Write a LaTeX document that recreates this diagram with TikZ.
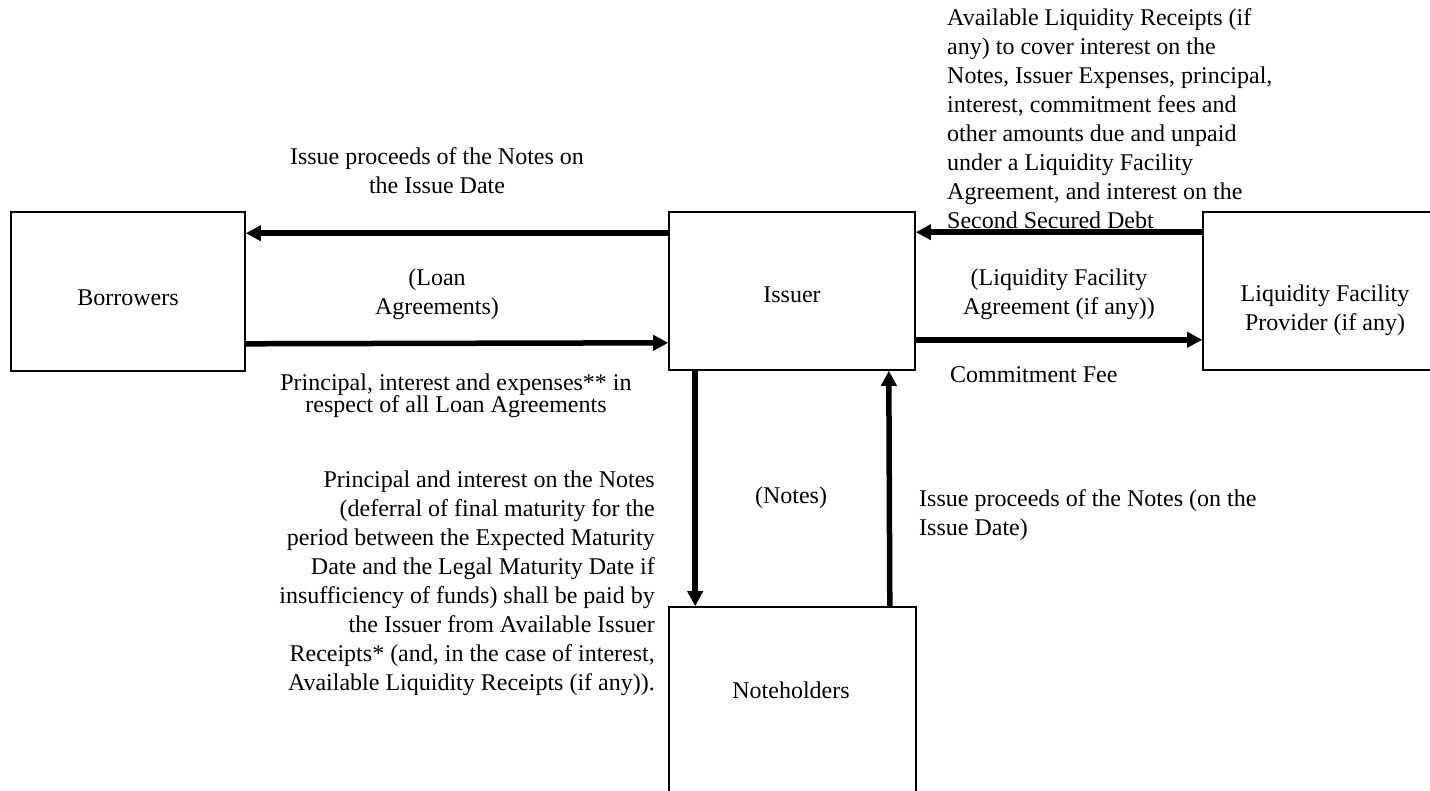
\documentclass[tikz,border=0pt]{standalone}
\usepackage{fontspec}
\setmainfont{Liberation Serif}
\usetikzlibrary{arrows.meta}
\def \globalscale {1.000000}
\tikzset{
  box/.style={draw=black, line width=1.6pt, inner sep=0pt},
  txt/.style={font=\fontsize{24}{29}\selectfont, inner sep=0pt},
  tighttxt/.style={font={\fontsize{24}{22.5}\selectfont\lineskiplimit-30pt\relax}, inner sep=0pt},
  flow/.style={draw=black, line width=5.5pt, -{Triangle[length=15pt,width=15pt]}},
}

\begin{document}
\begin{tikzpicture}[x=1pt, y=-1pt, xscale=\globalscale, yscale=\globalscale]
  \useasboundingbox (0,0) rectangle (1430,791);
  \clip (0,0) rectangle (1430,791);

  \node[box, minimum width=234pt, minimum height=159pt] (borrowers) at (128, 291.5) {};

  \node[box, minimum width=246pt, minimum height=158pt] (issuer) at (792, 291) {};

  \node[box, minimum width=260pt, minimum height=158pt] (liquidity) at (1333, 291) {};

  \node[box, minimum width=247pt, minimum height=253pt] (noteholders) at (792.5, 733.5) {};



  \node[txt] (borrowerstext) at (128, 298) {Borrowers};

  \node[txt] (issuertext) at (792, 295) {Issuer};

  \node[txt, align=center] (liquiditytext) at (1325, 310) {Liquidity Facility\\Provider (if any)};

  \node[txt] (noteholderstext) at (791, 690) {Noteholders};



  \draw[flow] ([yshift=-22pt]issuer.north west) -- ([yshift=-22pt]borrowers.north east);

  \draw[flow] ([yshift=28pt]borrowers.south east) -- ([yshift=28pt]issuer.south west);

  \draw[flow] ([yshift=-21pt]liquidity.north west) -- ([yshift=-21pt]issuer.north east);

  \draw[flow] ([yshift=31pt]issuer.south east) -- ([yshift=31pt]liquidity.south west);

  \draw[flow] ([xshift=27pt]issuer.south west) -- ([xshift=27pt]noteholders.north west);

  \draw[flow] ([xshift=-27pt]noteholders.north east) -- ([xshift=-27pt]issuer.south east);



  \node[txt, align=center] (proceedsleft) at (437, 171) {Issue proceeds of the Notes on\\the Issue Date};

  \node[txt, align=center] (loantext) at (437, 294) {(Loan\\Agreements)};

  \node[tighttxt, align=center] (principaltext) at (456, 396) {Principal, interest and expenses** in\\respect of all Loan Agreements};

  \node[txt, align=right, anchor=east] (paymenttext) at (655, 583) {Principal and interest on the Notes\\(deferral of final maturity for the\\period between the Expected Maturity\\Date and the Legal Maturity Date if\\insufficiency of funds) shall be paid by\\the Issuer from Available Issuer\\Receipts* (and, in the case of interest,\\Available Liquidity Receipts (if any)).};

  \node[txt] (notestext) at (791, 498) {(Notes)};

  \node[txt, align=left, anchor=west] (receiptstext) at (947, 119) {Available Liquidity Receipts (if\\any) to cover interest on the\\Notes, Issuer Expenses, principal,\\interest, commitment fees and\\other amounts due and unpaid\\under a Liquidity Facility\\Agreement, and interest on the\\Second Secured Debt};

  \node[txt, align=center] (facilitytext) at (1059, 294) {(Liquidity Facility\\Agreement (if any))};

  \node[txt, anchor=west] (feetext) at (950, 375) {Commitment Fee};

  \node[txt, align=left, anchor=west] (proceedsright) at (919, 515) {Issue proceeds of the Notes (on the\\Issue Date)};
\end{tikzpicture}
\end{document}
